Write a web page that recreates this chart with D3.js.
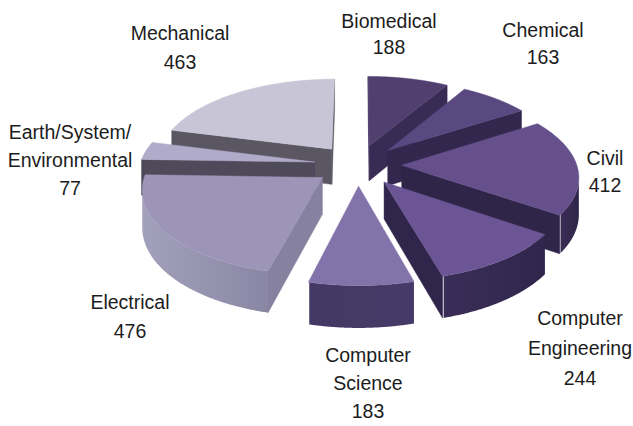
<!DOCTYPE html>
<html><head><meta charset="utf-8">
<script src="https://cdnjs.cloudflare.com/ajax/libs/d3/7.8.5/d3.min.js"></script>
<style>html,body{margin:0;padding:0;background:#fff}svg{display:block}
text{font-family:"Liberation Sans",Arial,sans-serif;font-size:19.5px;fill:#1c1c1c;text-anchor:middle}</style>
</head><body><svg id="c" width="633" height="426"></svg>
<script>
const categories = ["Biomedical","Chemical","Civil","Computer Engineering","Computer Science","Electrical","Earth/System/ Environmental","Mechanical"];
const values = [188,163,412,244,183,476,77,463];
const labelLines = [["Biomedical","188"],["Chemical","163"],["Civil","412"],["Computer","Engineering","244"],["Computer","Science","183"],["Electrical","476"],["Earth/System/","Environmental","77"],["Mechanical","463"]];
const topColors = ["#513f70","#5a4880","#65508c","#6b5594","#8273ab","#9c95b8","#b0abc9","#c8c6d6"];
const sideColors = ["#382b54","#33274d","#2f2549","#30264c","#4a3e6e","#85819f","#4e4a5a","#5a5662"];
const wallStart = ["#382b54","#33274d","#2f2549","#30264c","#463a68","#8a87a4","#4e4a5a","#5a5662"];
const wallEnd = ["#382b54","#3a2d57","#3a2d56","#3a2e58","#443964","#a3a0bc","#9a96b4","#8f8ca2"];
const labelAnchors = [[389,21],[543,30],[605,158],[580,318],[368,355],[130,302],[70,132],[180,33]];
const lineGap = [26,27,27,30,28,29,28,29];

const svg = d3.select("#c");
const defs = svg.append("defs");
const cx = 358, cy = 165, Rx = 175, Ry = 82, depth = 36, persp = 0.12, explode = 0.25;
const sx = d3.scaleLinear().domain([-1,1]).range([cx-Rx,cx+Rx]);
const sy = d3.scaleLinear().domain([-1,1]).range([cy-Ry,cy+Ry]);
function proj(X,Y,z){
  const f = 1/(1-persp*Y);
  return [sx(X*f), sy(Y*f)+z*depth*f];
}
const pie = d3.pie().sort(null).startAngle(0).endAngle(2*Math.PI).value(d=>d);
const arcs = pie(values).map((a,i)=>({...a,i,mid:(a.startAngle+a.endAngle)/2}));
const line = d3.line();
const area2 = p=>{let s=0;p.forEach((q,i)=>{const r=p[(i+1)%p.length];s+=q[0]*r[1]-r[0]*q[1];});return s/2;};

arcs.slice().sort((a,b)=>(-Math.cos(a.mid))-(-Math.cos(b.mid))).forEach(a=>{
  const g = svg.append("g");
  const ox = explode*Math.sin(a.mid), oy = -explode*Math.cos(a.mid);
  const pt = (t,z)=>proj(ox+Math.sin(t),oy-Math.cos(t),z);
  const apex = z=>proj(ox,oy,z);
  const ts = d3.range(0,121).map(k=>a.startAngle+(a.endAngle-a.startAngle)*k/120);
  [[apex(0),pt(a.startAngle,0),pt(a.startAngle,1),apex(1)],
   [pt(a.endAngle,0),apex(0),apex(1),pt(a.endAngle,1)]].forEach(q=>{
     if(area2(q)<0) g.append("path").attr("d",line(q)+"Z").attr("fill",sideColors[a.i]).attr("stroke",sideColors[a.i]).attr("stroke-width",.5);
  });
  // visible run of the outer wall as one gradient-filled path
  const vis = ts.filter((t,k)=>k<ts.length-1 && area2([pt(t,0),pt(ts[k+1],0),pt(ts[k+1],1),pt(t,1)])<0);
  if(vis.length>1){
    const id="wall"+a.i, x0=pt(vis[0],0)[0], x1=pt(vis[vis.length-1],0)[0];
    const gr=defs.append("linearGradient").attr("id",id).attr("gradientUnits","userSpaceOnUse")
      .attr("x1",x0).attr("y1",0).attr("x2",x1).attr("y2",0);
    gr.append("stop").attr("offset",0).attr("stop-color",wallStart[a.i]);
    gr.append("stop").attr("offset",1).attr("stop-color",wallEnd[a.i]);
    const outline=[...vis.map(t=>pt(t,0)),...vis.slice().reverse().map(t=>pt(t,1))];
    g.append("path").attr("d",line(outline)+"Z").attr("fill",`url(#${id})`);
  }
  g.append("path").attr("d",line([apex(0),...ts.map(t=>pt(t,0))])+"Z").attr("fill",topColors[a.i]).attr("stroke",topColors[a.i]).attr("stroke-width",.5);
});

labelLines.forEach((ls,i)=>{
  const t = svg.append("text").attr("aria-label",categories[i]+" "+values[i]);
  ls.forEach((s,k)=>t.append("tspan").attr("x",labelAnchors[i][0]).attr("y",labelAnchors[i][1]+7+k*lineGap[i]).text(s));
});
</script></body></html>
